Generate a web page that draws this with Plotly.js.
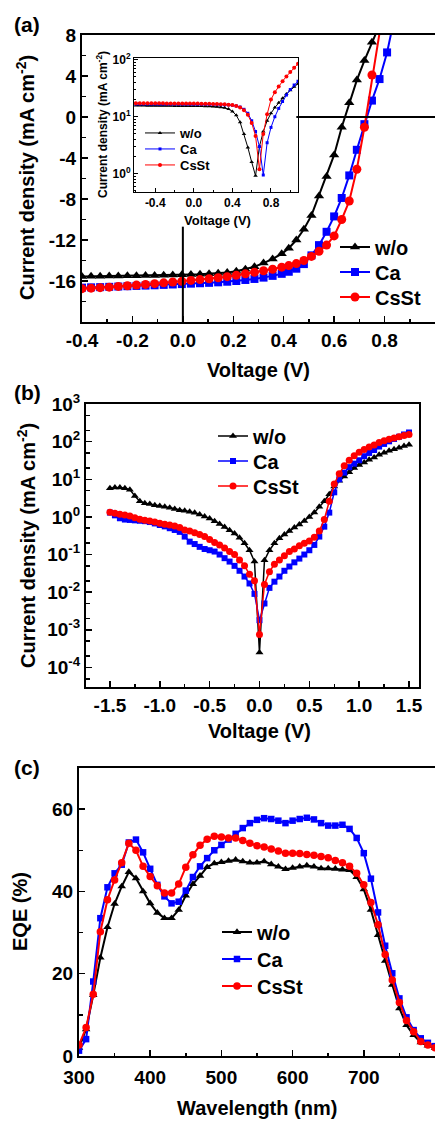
<!DOCTYPE html>
<html><head><meta charset="utf-8">
<script src="https://cdn.plot.ly/plotly-3.0.1.min.js"></script>
<style>html,body{margin:0;padding:0;background:#fff;}</style>
</head><body><div id="chart" style="width:435px;height:1121px;"></div>
<script>
// ---------- DATA ----------
const seriesNames = ["w/o", "Ca", "CsSt"];

// (a) J-V curves
const Va = [-0.4,-0.364,-0.328,-0.292,-0.256,-0.22,-0.184,-0.148,-0.112,-0.076,-0.04,-0.004,0.032,0.068,0.104,0.14,0.176,0.212,0.248,0.284,0.32,0.356,0.392,0.42,0.45,0.48,0.51,0.54,0.57,0.60,0.63,0.66,0.69,0.72,0.75,0.78,0.81,0.84,0.87];
const Ja_wo = [-15.55,-15.54,-15.53,-15.52,-15.51,-15.5,-15.49,-15.47,-15.46,-15.44,-15.42,-15.4,-15.37,-15.34,-15.3,-15.24,-15.16,-15.05,-14.85,-14.6,-14.25,-13.85,-13.35,-12.8,-12.0,-10.95,-9.6,-7.7,-5.8,-3.7,-1.0,1.4,3.6,5.5,7.3,9.0,10.8,12.5,14.2];
const Ja_Ca = [-16.65,-16.62,-16.6,-16.57,-16.54,-16.51,-16.48,-16.45,-16.42,-16.38,-16.34,-16.3,-16.26,-16.22,-16.18,-16.13,-16.07,-16.0,-15.9,-15.8,-15.67,-15.5,-15.3,-15.1,-14.8,-14.35,-13.5,-12.5,-11.2,-9.7,-7.9,-5.7,-3.2,-0.7,1.6,3.7,6.3,9.8,12.5];
const Ja_CsSt = [-16.75,-16.7,-16.65,-16.6,-16.53,-16.46,-16.4,-16.33,-16.26,-16.18,-16.1,-16.02,-15.94,-15.86,-15.78,-15.68,-15.58,-15.45,-15.3,-15.15,-15.0,-14.85,-14.65,-14.5,-14.3,-14.0,-13.6,-13.1,-12.5,-11.6,-10.0,-8.2,-5.1,-1.0,4.1,9.0,14,18,22];

// (a) inset: |J| on log scale
const Vi = [-0.6,-0.56,-0.52,-0.48,-0.44,-0.4,-0.36,-0.32,-0.28,-0.24,-0.2,-0.16,-0.12,-0.08,-0.04,0.0,0.04,0.08,0.12,0.16,0.2,0.24,0.28,0.32,0.36,0.4,0.44,0.48,0.52,0.56,0.6,0.64,0.68,0.72,0.76,0.8,0.84,0.88,0.92,0.96,1.0,1.04,1.08];
const Ji_wo = [15.7,15.7,15.7,15.65,15.65,15.6,15.6,15.6,15.55,15.55,15.5,15.5,15.5,15.45,15.45,15.4,15.4,15.35,15.3,15.2,15.1,14.9,14.7,14.3,13.6,12.4,10.6,8.0,5.0,2.9,1.6,0.92,3.0,5.5,8.5,11.5,14.5,17.5,21,25,29,33.5,38];
const Ji_Ca = [16.7,16.7,16.7,16.7,16.7,16.7,16.65,16.65,16.65,16.6,16.6,16.6,16.6,16.55,16.55,16.5,16.5,16.5,16.45,16.4,16.4,16.3,16.25,16.2,16.1,15.9,15.5,14.8,13.5,11.5,8.5,5.5,3.0,0.95,3.5,6.5,10,14,18.5,24,30,36,42];
const Ji_CsSt = [17.2,17.2,17.2,17.2,17.2,17.15,17.15,17.15,17.1,17.1,17.1,17.1,17.05,17.05,17.0,17.0,17.0,16.95,16.9,16.9,16.8,16.7,16.6,16.5,16.3,16.0,15.4,14.5,13.0,10.8,7.8,4.6,1.2,5.0,11,20,27,34,42,51,61,72,85];

// (b) dark J-V, |J| on log scale
const Vb = [-1.5,-1.45,-1.4,-1.35,-1.3,-1.25,-1.2,-1.15,-1.1,-1.05,-1.0,-0.95,-0.9,-0.85,-0.8,-0.75,-0.7,-0.65,-0.6,-0.55,-0.5,-0.45,-0.4,-0.35,-0.3,-0.25,-0.2,-0.15,-0.1,-0.05,0.0,0.05,0.1,0.15,0.2,0.25,0.3,0.35,0.4,0.45,0.5,0.55,0.6,0.65,0.7,0.75,0.8,0.85,0.9,0.95,1.0,1.05,1.1,1.15,1.2,1.25,1.3,1.35,1.4,1.45,1.5];
const Jb_wo = [5.8,6.0,6.0,5.8,5.3,3.6,2.6,2.3,2.2,2.05,1.95,1.85,1.75,1.62,1.5,1.45,1.38,1.28,1.15,1.03,0.9,0.77,0.65,0.54,0.44,0.36,0.28,0.2,0.13,0.065,0.00025,0.07,0.13,0.2,0.27,0.34,0.42,0.52,0.63,0.78,1.0,1.3,1.85,2.6,4.0,6.4,9.1,11.8,15.4,19.8,24,27.7,33,38,45,51,57,63,69,76,83];
const Jb_Ca = [1.3,1.1,0.92,0.85,0.83,0.81,0.79,0.77,0.73,0.67,0.61,0.56,0.5,0.45,0.4,0.3,0.22,0.19,0.16,0.14,0.13,0.12,0.1,0.08,0.065,0.05,0.037,0.026,0.017,0.009,0.0018,0.005,0.013,0.019,0.026,0.037,0.048,0.062,0.078,0.1,0.13,0.18,0.3,0.55,1.3,4.5,10,15,21,26,32,41,50,60,74,87,102,118,135,155,175];
const Jb_CsSt = [1.33,1.25,1.18,1.12,1.05,0.95,0.87,0.82,0.78,0.73,0.68,0.64,0.61,0.57,0.52,0.45,0.42,0.38,0.34,0.3,0.25,0.21,0.18,0.15,0.12,0.1,0.072,0.05,0.03,0.02,0.00075,0.016,0.035,0.055,0.072,0.093,0.12,0.14,0.17,0.2,0.23,0.29,0.42,0.85,2.6,7.5,14,23,32,42,52,62,72,82,95,105,115,125,135,145,155];

// (c) EQE spectra
const wl = [300,310,320,330,340,350,360,370,380,390,400,410,420,430,440,450,460,470,480,490,500,510,520,530,540,550,560,570,580,590,600,610,620,630,640,650,660,670,680,690,700,710,720,730,740,750,760,770,780,790,800];
const eqe_wo = [2.0,6.5,14.8,23.9,31.3,37.0,41.2,44.7,43.2,40.0,37.1,34.8,33.5,33.5,35.5,39.0,41.8,43.8,45.9,46.8,47.1,47.4,47.7,47.3,47.0,47.0,47.3,46.6,46.0,45.4,45.7,46.0,46.3,46.0,45.6,45.6,45.5,45.3,45.2,43.5,40.5,35.5,29.4,23.1,17.3,11.6,7.5,5.1,3.3,2.5,2.0];
const eqe_Ca = [1.3,4.1,18.1,33.5,41.0,44.4,46.5,51.9,52.6,49.5,45.5,41.6,38.8,37.1,37.5,40.2,43.5,46.1,48.1,50.0,51.3,52.6,54.0,55.4,56.6,57.4,57.8,57.6,57.2,56.6,57.2,57.6,57.9,57.5,56.6,56.0,56.0,56.2,55.2,53.0,49.3,43.1,34.9,26.8,20.1,14.0,9.4,6.3,4.3,3.2,2.4];
const eqe_CsSt = [2.7,6.9,15.0,30.2,38.0,42.8,47.0,51.7,50.0,46.1,43.6,41.4,39.6,39.6,41.8,45.9,48.9,51.2,52.7,53.4,53.2,53.0,53.0,52.4,51.7,51.1,50.8,50.3,49.8,49.3,49.3,49.2,49.0,48.8,48.5,48.2,47.5,47.0,46.1,44.4,41.6,37.3,31.9,24.7,18.5,13.0,8.6,5.9,3.5,2.7,2.0];

// tick labels
const ticksA_x = [-0.4,-0.2,0.0,0.2,0.4,0.6,0.8];
const ticksA_xText = ["-0.4","-0.2","0.0","0.2","0.4","0.6","0.8"];
const ticksA_y = [-16,-12,-8,-4,0,4,8];
const ticksA_yText = ["-16","-12","-8","-4","0","4","8"];
const ticksI_x = [-0.4,0.0,0.4,0.8];
const ticksI_xText = ["-0.4","0.0","0.4","0.8"];
const ticksI_y = [1,10,100];
const ticksI_yText = ["10<sup>0</sup>","10<sup>1</sup>","10<sup>2</sup>"];
const ticksB_x = [-1.5,-1.0,-0.5,0.0,0.5,1.0,1.5];
const ticksB_xText = ["-1.5","-1.0","-0.5","0.0","0.5","1.0","1.5"];
const ticksB_y = [1e-4,1e-3,1e-2,1e-1,1,10,100,1000];
const ticksB_yText = ["10<sup>-4</sup>","10<sup>-3</sup>","10<sup>-2</sup>","10<sup>-1</sup>","10<sup>0</sup>","10<sup>1</sup>","10<sup>2</sup>","10<sup>3</sup>"];
const ticksC_x = [300,400,500,600,700];
const ticksC_xText = ["300","400","500","600","700"];
const ticksC_y = [0,20,40,60];
const ticksC_yText = ["0","20","40","60"];

// ---------- STYLE / LAYOUT ----------
const W = 435, H = 1121;
const F = "Liberation Sans, Arial, Helvetica, sans-serif";
const colors = ["#000000", "#0000ff", "#ff0000"];
const symbols = ["triangle-up", "square", "circle"];
const px = v => v / W;
const py = v => 1 - v / H;

function axis(extra) {
  return Object.assign({
    showline: true, linecolor: "#000", linewidth: 2, mirror: true,
    ticks: "inside", ticklen: 6, tickwidth: 1.5, tickcolor: "#000",
    showgrid: false, zeroline: false, tickmode: "array",
    tickfont: {family: F, size: 19, color: "#000", weight: "bold"}
  }, extra);
}
function minor(len, w, dtick) {
  return {ticks: "inside", ticklen: len, tickwidth: w, tickcolor: "#000", showgrid: false, dtick: dtick, tick0: 0};
}

// each series gets its own legend box so the entries can sit at the reference spacing
function makeTraces(xs, ysList, xa, ya, legendIds, msize, lw) {
  return ysList.map((ys, i) => ({
    type: "scatter", mode: "lines+markers", x: xs, y: ys, name: seriesNames[i],
    xaxis: xa, yaxis: ya, legend: legendIds[i], showlegend: true,
    line: {color: colors[i], width: lw},
    marker: {symbol: symbols[i], color: colors[i], size: (i === 1 ? msize - 1 : msize)}
  }));
}

const traces = [].concat(
  makeTraces(Va, [Ja_wo, Ja_Ca, Ja_CsSt], "x", "y", ["legend", "legend2", "legend3"], 9, 2),
  makeTraces(Vi, [Ji_wo, Ji_Ca, Ji_CsSt], "x2", "y2", ["legend4", "legend5", "legend6"], 4, 1),
  makeTraces(Vb, [Jb_wo, Jb_Ca, Jb_CsSt], "x3", "y3", ["legend7", "legend8", "legend9"], 7, 1.5),
  makeTraces(wl, [eqe_wo, eqe_Ca, eqe_CsSt], "x4", "y4", ["legend10", "legend11", "legend12"], 7.5, 2)
);

function ann(text, x, y, size, angle) {
  return {text: text, xref: "paper", yref: "paper", x: px(x), y: py(y),
    xanchor: "center", yanchor: "middle", showarrow: false, textangle: angle || 0,
    font: {family: F, size: size, color: "#000", weight: "bold"}};
}
function leg(x, yc, size) {
  return {x: px(x), y: py(yc), xanchor: "left", yanchor: "middle",
    bgcolor: "rgba(0,0,0,0)", borderwidth: 0, tracegroupgap: 0,
    font: {family: F, size: size, color: "#000", weight: "bold"}};
}

const layout = {
  width: W, height: H, autosize: false,
  margin: {l: 0, r: 0, t: 0, b: 0},
  paper_bgcolor: "#fff", plot_bgcolor: "#fff",
  showlegend: true,
  xaxis: axis({domain: [px(82), 1], range: [-0.4, 1.0], tickvals: ticksA_x, ticktext: ticksA_xText, anchor: "y",
    minor: minor(3.5, 1.5, 0.1)}),
  yaxis: axis({domain: [py(322), py(35)], range: [-20, 8], tickvals: ticksA_y, ticktext: ticksA_yText, anchor: "x",
    minor: minor(3.5, 1.5, 2)}),
  xaxis2: axis({domain: [px(134), px(298)], range: [-0.62, 1.08], tickvals: ticksI_x, ticktext: ticksI_xText, anchor: "y2",
    linewidth: 1, ticklen: 4, tickwidth: 1, tickfont: {family: F, size: 12, color: "#000", weight: "bold"},
    minor: minor(2, 1, 0.2)}),
  yaxis2: axis({domain: [py(192), py(58)], type: "log", range: [-0.32, 2.03], tickvals: ticksI_y, ticktext: ticksI_yText, anchor: "x2",
    linewidth: 1, ticklen: 4, tickwidth: 1, tickfont: {family: F, size: 12, color: "#000", weight: "bold"},
    minor: {ticks: "inside", ticklen: 2, tickwidth: 1, tickcolor: "#000", dtick: "D1"}}),
  xaxis3: axis({domain: [px(86), px(419)], range: [-1.74, 1.6], tickvals: ticksB_x, ticktext: ticksB_xText, anchor: "y3",
    minor: minor(3.5, 1.5, 0.25)}),
  yaxis3: axis({domain: [py(687), py(404)], type: "log", range: [-4.52, 3], tickvals: ticksB_y, ticktext: ticksB_yText, anchor: "x3",
    minor: {ticks: "inside", ticklen: 3.5, tickwidth: 1.5, tickcolor: "#000", dtick: "D2"}}),
  xaxis4: axis({domain: [px(79), 1], range: [300, 800], tickvals: ticksC_x, ticktext: ticksC_xText, anchor: "y4",
    ticklabelstandoff: 3, minor: minor(3.5, 1.5, 50)}),
  yaxis4: axis({domain: [py(1056), py(768)], range: [0, 70], tickvals: ticksC_y, ticktext: ticksC_yText, anchor: "x4",
    minor: minor(3.5, 1.5, 10)}),
  legend: leg(335, 247, 20), legend2: leg(335, 272, 20), legend3: leg(335, 297, 20),
  legend4: leg(140, 133, 13), legend5: leg(140, 149, 13), legend6: leg(140, 165, 13),
  legend7: leg(213, 436, 20), legend8: leg(213, 461, 20), legend9: leg(213, 486, 20),
  legend10: leg(217, 932, 20), legend11: leg(217, 959, 20), legend12: leg(217, 986, 20),
  shapes: [
    {type: "line", xref: "x", yref: "y", x0: 0, x1: 0, y0: -20, y1: -10.7, line: {color: "#000", width: 2}},
    {type: "line", xref: "x", yref: "y", x0: 0.45, x1: 1.0, y0: 0, y1: 0, line: {color: "#000", width: 2}}
  ],
  annotations: [
    ann("(a)", 27, 24, 21), ann("(b)", 27, 392, 21), ann("(c)", 27, 767, 21),
    ann("Voltage (V)", 258, 370, 20),
    ann("Current density (mA cm<sup>-2</sup>)", 26, 178, 20, -90),
    ann("Voltage (V)", 217, 220, 13),
    ann("Current density (mA cm<sup>-2</sup>)", 102, 125, 12, -90),
    ann("Voltage (V)", 259, 731, 20),
    ann("Current density (mA cm<sup>-2</sup>)", 27, 546, 20, -90),
    ann("Wavelength (nm)", 257, 1108, 20),
    ann("EQE (%)", 20, 912, 20, -90)
  ]
};

Plotly.newPlot("chart", traces, layout, {staticPlot: true, displayModeBar: false});
</script></body></html>
